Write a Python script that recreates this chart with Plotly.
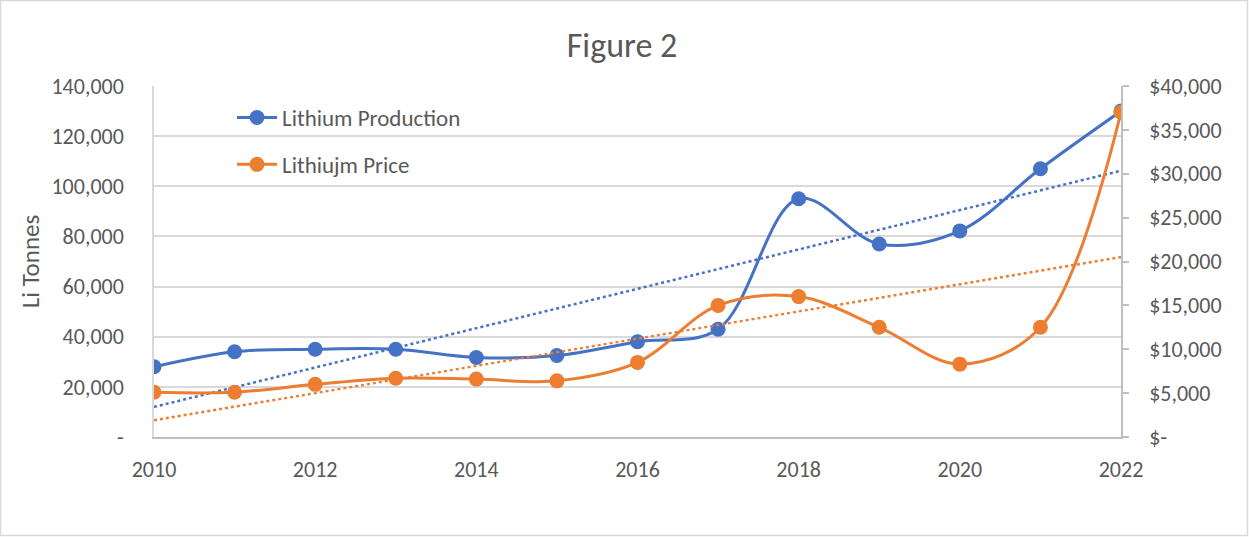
import numpy as np
import plotly.graph_objects as go

years = [2010, 2011, 2012, 2013, 2014, 2015, 2016, 2017, 2018, 2019, 2020, 2021, 2022]
production = [28000, 34000, 35000, 35000, 31700, 32500, 38000, 43000, 95000, 77000, 82200, 107000, 130000]
price = [5100, 5100, 6000, 6700, 6600, 6400, 8500, 15000, 16000, 12500, 8300, 12500, 37000]

left_tickvals = [0, 20000, 40000, 60000, 80000, 100000, 120000, 140000]
left_ticktext = ["-", "20,000", "40,000", "60,000", "80,000", "100,000", "120,000", "140,000"]
right_tickvals = [0, 5000, 10000, 15000, 20000, 25000, 30000, 35000, 40000]
right_ticktext = ["$-", "$5,000", "$10,000", "$15,000", "$20,000", "$25,000", "$30,000", "$35,000", "$40,000"]
x_tickvals = [2010, 2012, 2014, 2016, 2018, 2020, 2022]

BLUE = "#4472C4"
ORANGE = "#ED7D31"
TXT = "#595959"
FONT = "Calibri, Carlito, Lato, sans-serif"

x = np.array(years, dtype=float)
pb = np.polyfit(x, production, 1)
po = np.polyfit(x, price, 1)
trend_b = np.polyval(pb, x)
trend_o = np.polyval(po, x)

fig = go.Figure()
fig.add_trace(go.Scatter(x=years, y=trend_b, mode="lines", showlegend=False,
                         line=dict(color=BLUE, width=2.5, dash="dot"), hoverinfo="skip"))
fig.add_trace(go.Scatter(x=years, y=trend_o, mode="lines", showlegend=False, yaxis="y2",
                         line=dict(color=ORANGE, width=2.5, dash="dot"), hoverinfo="skip"))
fig.add_trace(go.Scatter(x=years, y=production, name="Lithium Production", mode="lines+markers",
                         line=dict(color=BLUE, width=3, shape="spline", smoothing=1.0),
                         marker=dict(size=15, color=BLUE), legendgroup="a"))
fig.add_trace(go.Scatter(x=years, y=price, name="Lithiujm Price", mode="lines+markers", yaxis="y2",
                         line=dict(color=ORANGE, width=3, shape="spline", smoothing=1.0),
                         marker=dict(size=15, color=ORANGE), legendgroup="b"))

L, R, T, B = 154, 128, 86, 100
W, H = 1249, 537
pw, ph = W - L - R, H - T - B

fig.update_layout(
    width=W, height=H,
    margin=dict(l=L, r=R, t=T, b=B),
    paper_bgcolor="white", plot_bgcolor="white",
    font=dict(family=FONT, color=TXT, size=22),
    title=dict(text="Figure 2", x=0.498, xanchor="center", y=1 - 45 / H, yanchor="middle",
               font=dict(size=34, color=TXT, family=FONT)),
    xaxis=dict(range=[2010, 2022], tickvals=x_tickvals, showgrid=False, zeroline=False,
               showline=True, linecolor="#BFBFBF", linewidth=1.5, ticks="",
               ticklabelstandoff=12, tickfont=dict(size=22, color=TXT)),
    yaxis=dict(range=[0, 140000], tickvals=left_tickvals, ticktext=left_ticktext,
               showgrid=True, gridcolor="#D9D9D9", gridwidth=1.5, zeroline=False,
               showline=True, linecolor="#D9D9D9", linewidth=1.5, ticks="",
               ticklabelstandoff=24, tickfont=dict(size=22, color=TXT),
               title=dict(text="Li Tonnes", font=dict(size=25, color=TXT), standoff=5)),
    yaxis2=dict(range=[0, 40000], overlaying="y", side="right", tickvals=right_tickvals,
                ticktext=right_ticktext, showgrid=False, zeroline=False, showline=True,
                linecolor="#BFBFBF", linewidth=1.5, ticks="outside", ticklen=6,
                tickcolor="#BFBFBF", tickwidth=1.5, ticklabelstandoff=16,
                tickfont=dict(size=22, color=TXT)),
    legend=dict(x=(232 - L) / pw, y=(H - B - 96) / ph, xanchor="left", yanchor="top",
                bgcolor="rgba(0,0,0,0)", font=dict(size=23, color=TXT),
                tracegroupgap=14, itemwidth=40),
    showlegend=True,
    shapes=[dict(type="rect", xref="paper", yref="paper",
                 x0=-L / pw + 0.5 / pw, x1=1 + R / pw - 1.5 / pw,
                 y0=-B / ph + 1.5 / ph, y1=1 + T / ph - 0.5 / ph,
                 line=dict(color="#D9D9D9", width=1.5), layer="below")],
)

fig.write_html("out.html", config={"displayModeBar": False},
               post_script="document.body.style.margin='0';")
